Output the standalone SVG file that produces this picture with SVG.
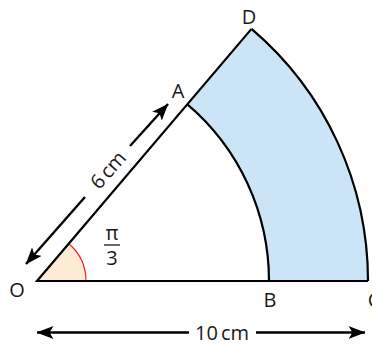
<svg xmlns="http://www.w3.org/2000/svg" width="372" height="345" viewBox="0 0 372 345">
<style>
.ln{fill:none;stroke:#000;stroke-width:2.2}
.lb{font-family:"Open Sans","Noto Sans",sans-serif;font-size:20px;fill:#1a1a1a;text-anchor:middle}
.ar{fill:none;stroke:#000;stroke-width:2.4}
</style>
<defs>
<marker id="ah" viewBox="0 0 17 13" refX="16.5" refY="6.5" markerWidth="17" markerHeight="13" markerUnits="userSpaceOnUse" orient="auto-start-reverse">
<path d="M0,0 L17,6.5 L0,13 L4,6.5 Z" fill="#000"/>
</marker>
</defs>
<g id="region">
<path d="M187.4,104.3 L251.5,28.9 A331,331 0 0 1 368,281 L269,281 A232,232 0 0 0 187.4,104.3 Z" fill="#cce5f6"/>
</g>
<g id="angle">
<path d="M37,281 L86,281 A49,49 0 0 0 68.8,243.7 Z" fill="#fdebd5"/>
<path d="M86,281 A49,49 0 0 0 68.8,243.7" fill="none" stroke="#e8202a" stroke-width="1.2"/>
</g>
<g id="shape">
<path class="ln" d="M251.5,28.9 L37,281 L368,281"/>
<path class="ln" d="M187.4,104.3 A232,232 0 0 1 269,281"/>
<path class="ln" d="M251.5,28.9 A331,331 0 0 1 368,281"/>
</g>
<g id="connectors">
<line class="ar" x1="85" y1="197" x2="26" y2="264" marker-end="url(#ah)"/>
<line class="ar" x1="130" y1="146" x2="168" y2="104" marker-end="url(#ah)"/>
<line class="ar" x1="189" y1="332.5" x2="37" y2="332.5" marker-end="url(#ah)"/>
<line class="ar" x1="256" y1="332.5" x2="365" y2="332.5" marker-end="url(#ah)"/>
</g>
<g id="labels">
<text class="lb" x="17" y="297">O</text>
<text class="lb" x="178" y="98">A</text>
<text class="lb" x="249" y="24">D</text>
<text class="lb" x="270" y="307">B</text>
<text class="lb" x="374" y="307">C</text>
<text class="lb" x="112" y="240">π</text>
<line x1="104" y1="245" x2="120" y2="245" stroke="#1a1a1a" stroke-width="1.3"/>
<text class="lb" x="112" y="265">3</text>
<text class="lb" transform="translate(108,170) rotate(-48.5)" y="7">6<tspan dx="3">cm</tspan></text>
<text class="lb" x="222" y="340">10<tspan dx="3">cm</tspan></text>
</g>
</svg>
